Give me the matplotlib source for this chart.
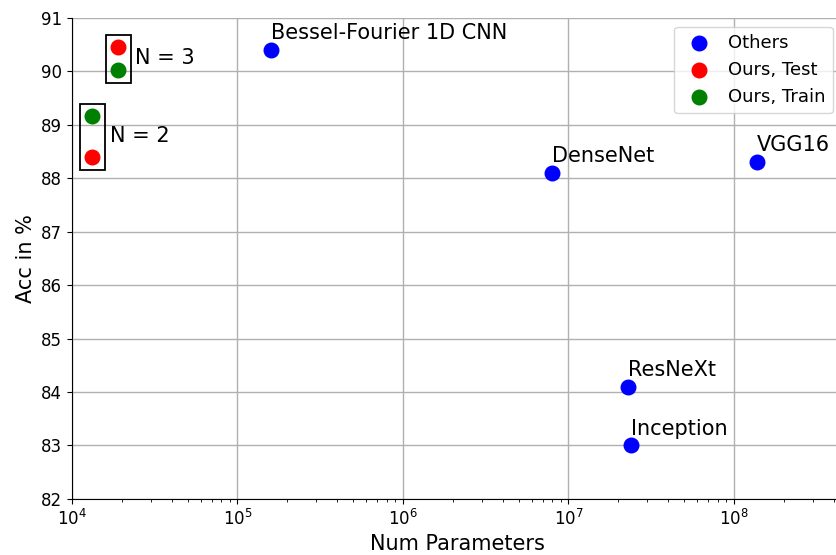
import matplotlib
matplotlib.use("Agg")
import matplotlib.pyplot as plt
from matplotlib.patches import Rectangle

# others
names = ["Bessel-Fourier 1D CNN", "DenseNet", "VGG16", "ResNeXt", "Inception"]
params = [1.6e5, 8.0e6, 1.38e8, 2.3e7, 2.4e7]
acc = [90.4, 88.1, 88.3, 84.1, 83.0]

# ours
n_values = ["N = 2", "N = 3"]
ours_params = [1.33e4, 1.9e4]
ours_test = [88.4, 90.46]
ours_train = [89.17, 90.03]

fig = plt.figure(figsize=(8.37, 5.55), dpi=100)
ax = fig.add_axes([0.086, 0.101, 0.92, 0.867])

ax.scatter(params, acc, s=110, color="blue", label="Others", zorder=3)
ax.scatter(ours_params, ours_test, s=110, color="red", label="Ours, Test", zorder=3)
ax.scatter(ours_params, ours_train, s=110, color="green", label="Ours, Train", zorder=3)

for name, x, y in zip(names, params, acc):
    ax.annotate(name, (x, y), xytext=(0, 5), textcoords="offset points",
                fontsize=15, ha="left", va="bottom")

# boxes round our points
for x, lo, hi, lab in zip(ours_params, ours_test, ours_train, n_values):
    ymin = min(lo, hi) - 0.25
    ymax = max(lo, hi) + 0.22
    x0 = x / 1.19
    x1 = x * 1.19
    ax.add_patch(Rectangle((x0, ymin), x1 - x0, ymax - ymin, fill=False,
                           edgecolor="black", linewidth=1.3, zorder=4))
    ax.text(x1 * 1.07, (lo + hi) / 2, lab, fontsize=15, ha="left", va="center")

ax.set_xscale("log")
ax.set_xlim(1e4, 4.5e8)
ax.set_ylim(82, 91)
ax.set_xlabel("Num Parameters", fontsize=15)
ax.set_ylabel("Acc in %", fontsize=15)
ax.tick_params(labelsize=12)
ax.grid(True, which="major", color="#b0b0b0", linewidth=1)
ax.set_axisbelow(True)
ax.spines["top"].set_visible(False)
ax.spines["right"].set_visible(False)
ax.legend(loc="upper right", fontsize=13, markerscale=1.0, handletextpad=0.6)

fig.savefig("out.png", dpi=100)
